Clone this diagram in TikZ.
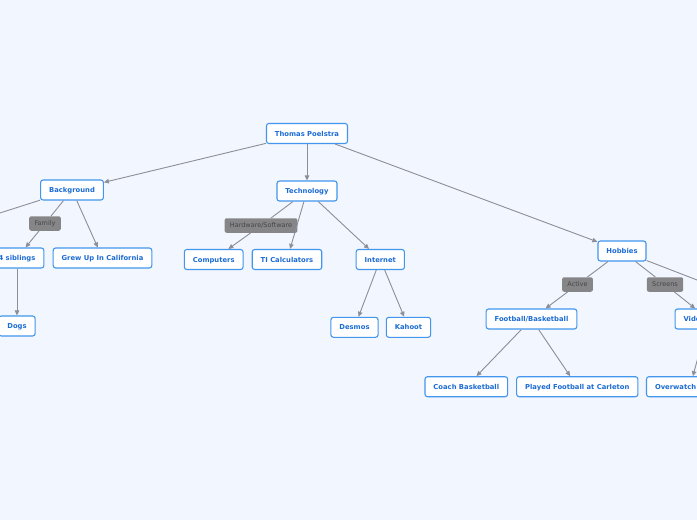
\documentclass[tikz,border=0pt]{standalone}
\usepackage{fontspec}
\setmainfont{DejaVu Sans}
\usepackage{tikz}
\usetikzlibrary{arrows.meta}

\definecolor{bgpale}{RGB}{242,246,254}
\definecolor{topicblue}{RGB}{66,150,238}
\definecolor{topictext}{RGB}{28,108,212}
\definecolor{taggray}{RGB}{134,134,136}
\definecolor{tagtext}{RGB}{70,70,72}
\definecolor{linkgray}{RGB}{140,142,152}

\begin{document}
\begin{tikzpicture}[x=1pt, y=-1pt,
  topic/.style={draw=topicblue, line width=1.1pt, fill=white, rounded corners=2.5pt,
    font=\fontsize{6.8}{8}\selectfont\bfseries, text=topictext,
    minimum height=20pt, inner xsep=8.5pt, inner ysep=0pt, text height=5pt, text depth=0pt},
  tag/.style={fill=taggray, rounded corners=2pt, font=\fontsize{6.5}{8}\selectfont, text=tagtext,
    minimum height=14.5pt, inner xsep=5.3pt, inner ysep=0pt, text height=4.8pt, text depth=0pt},
  link/.style={draw=linkgray, line width=0.9pt},
  arr/.style={link, -{Triangle[length=5pt,width=4.5pt]}}]

% Canvas
\fill[bgpale] (0,0) rectangle (697,520);
\useasboundingbox (0,0) rectangle (697,520);
\clip (0,0) rectangle (697,520);

% Central topic and main branches
\node[topic] (thomas) at (307,133.5) {Thomas Poelstra};
\node[topic] (backgr) at (72,190) {Background};
\node[topic] (techno) at (307,191) {Technology};
\node[topic] (hobby) at (622,251) {Hobbies};

% Background branch
\node[tag] (family) at (45,223.5) {Family};
\node[topic] (sibs) at (17,258) {4 siblings};
\node[topic] (calif) at (102.5,258) {Grew Up In California};
\node[topic] (dogs) at (17,326) {Dogs};
\coordinate (offleft) at (-141,258);

% Technology branch
\node[tag] (hwsw) at (261,225.5) {Hardware/Software};
\node[topic] (comp) at (213.7,259.5) {Computers};
\node[topic] (ticalc) at (287,259.5) {TI Calculators};
\node[topic] (inet) at (380.3,259.5) {Internet};
\node[topic] (desmos) at (354.5,327.3) {Desmos};
\node[topic] (kahoot) at (408.5,327.3) {Kahoot};

% Hobbies branch
\node[tag] (active) at (577.5,284.5) {Active};
\node[tag] (screens) at (665,284.5) {Screens};
\node[topic] (footb) at (531.5,319) {Football/Basketball};
\node[topic] (video) at (708.5,319) {Video Games};
\node[topic] (coach) at (466.3,386.7) {Coach Basketball};
\node[topic] (carleton) at (577.3,386.7) {Played Football at Carleton};
\node[topic, text width=70pt, align=left] (overw) at (690,386.7) {Overwatch};
\coordinate (offright) at (798,319);

% Connectors
\draw[arr] (thomas) -- (backgr);
\draw[arr] (thomas) -- (techno);
\draw[arr] (thomas) -- (hobby);

\draw[arr] (backgr) -- (offleft);
\draw[link] (backgr) -- (family);
\draw[arr] (family) -- (sibs);
\draw[arr] (backgr) -- (calif);
\draw[arr] (sibs) -- (dogs);

\draw[link] (techno) -- (hwsw);
\draw[arr] (hwsw) -- (comp);
\draw[arr] (techno) -- (ticalc);
\draw[arr] (techno) -- (inet);
\draw[arr] (inet) -- (desmos);
\draw[arr] (inet) -- (kahoot);

\draw[link] (hobby) -- (active);
\draw[arr] (active) -- (footb);
\draw[link] (hobby) -- (screens);
\draw[arr] (screens) -- (video);
\draw[arr] (hobby) -- (offright);
\draw[arr] (footb) -- (coach);
\draw[arr] (footb) -- (carleton);
\draw[arr] (video) -- (overw);

\end{tikzpicture}
\end{document}
